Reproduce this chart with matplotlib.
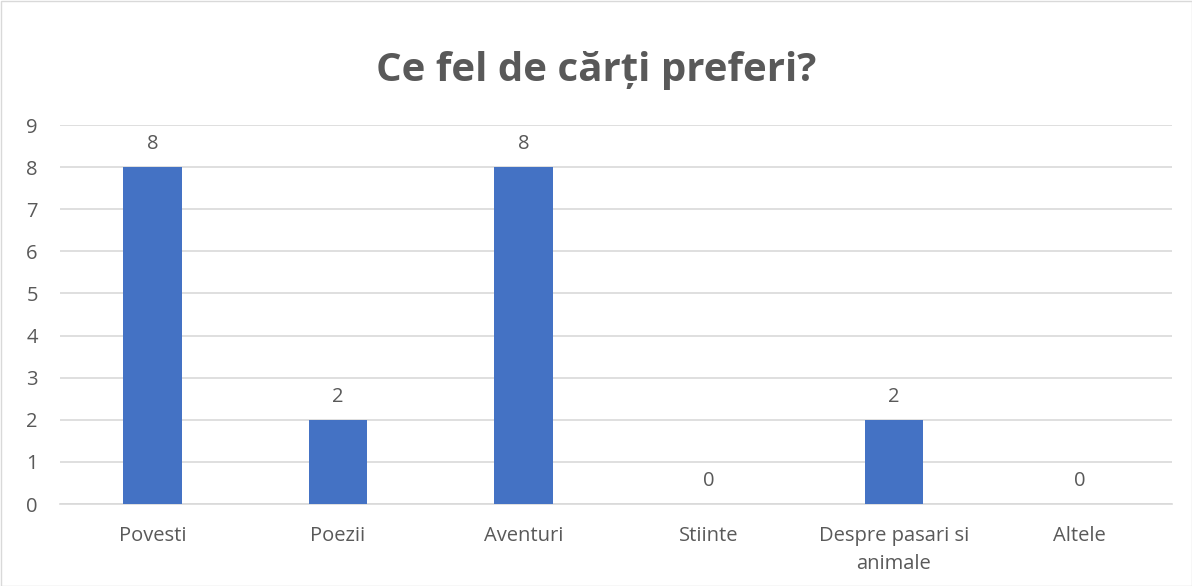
import matplotlib
matplotlib.use("Agg")
import matplotlib.pyplot as plt
from matplotlib.patches import Rectangle

categories = ['Povesti', 'Poezii', 'Aventuri', 'Stiinte', 'Despre pasari si\nanimale', 'Altele']
values = [8, 2, 8, 0, 2, 0]
yticks = list(range(0, 10))

TEXT = '#595959'
BAR = '#4472C4'
GRID = '#D9D9D9'

plt.rcParams['font.family'] = ['Open Sans', 'DejaVu Sans']

fig = plt.figure(figsize=(11.92, 5.86), dpi=100)
ax = fig.add_axes([60 / 1192, 1 - 504 / 586, 1112 / 1192, (504 - 125) / 586])

x = range(len(categories))
bars = ax.bar(x, values, width=0.315, color=BAR, zorder=3)
for xi, v in zip(x, values):
    ax.text(xi, v + 0.3, str(v), ha='center', va='bottom', fontsize=14.5, color=TEXT)

ax.set_xlim(-0.5, len(categories) - 0.5)
ax.set_ylim(0, 9)
ax.set_yticks(yticks)
ax.set_xticks(list(x))
ax.set_xticklabels(categories, fontsize=14.5, color=TEXT, linespacing=1.5)
ax.tick_params(axis='y', labelsize=14.5, labelcolor=TEXT, length=0, pad=16)
ax.tick_params(axis='x', length=0, pad=16)
ax.grid(axis='y', color=GRID, linewidth=1.2, zorder=0)
for s in ['top', 'right', 'left']:
    ax.spines[s].set_visible(False)
ax.spines['bottom'].set_color(GRID)
ax.spines['bottom'].set_linewidth(1.2)

fig.text(0.5, 1 - 71 / 586, 'Ce fel de cărți preferi?', ha='center', va='center',
         fontsize=29, fontweight='bold', color=TEXT)

fig.patches.append(Rectangle((0.5 / 1192, 0.5 / 586), 1 - 1 / 1192, 1 - 1 / 586,
                             transform=fig.transFigure, fill=False,
                             edgecolor='#D9D9D9', linewidth=1))

fig.savefig('out.png', dpi=100)
